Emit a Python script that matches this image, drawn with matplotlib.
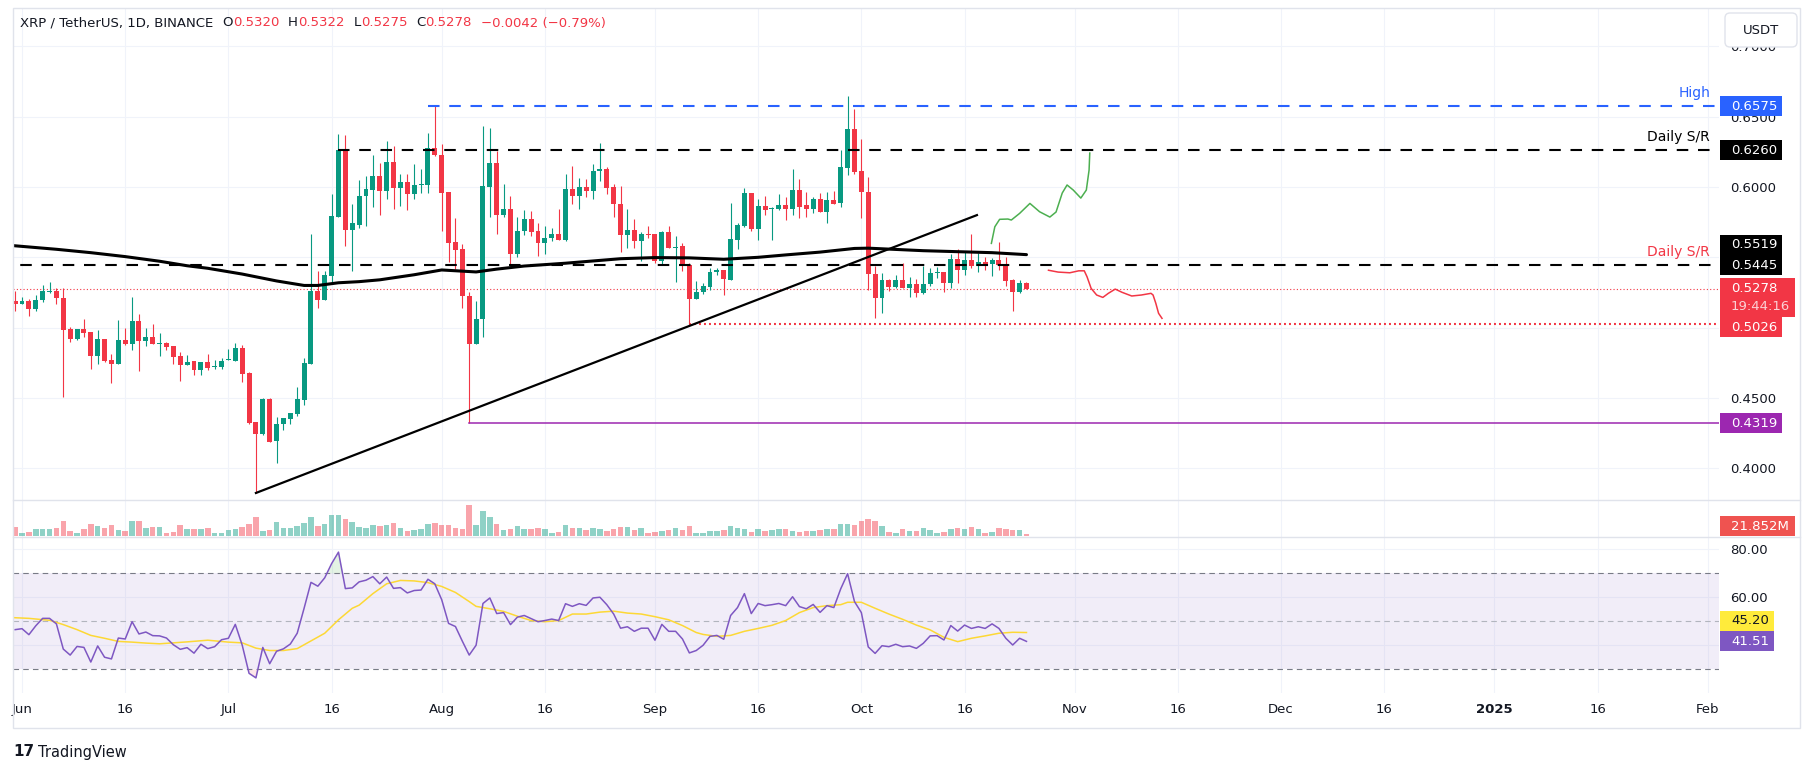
import matplotlib
matplotlib.use('Agg')
import matplotlib.pyplot as plt
import matplotlib.dates as mdates
from matplotlib.patches import Rectangle, FancyBboxPatch
import numpy as np
import pandas as pd

# ---------------------------------------------------------------- data
first_day = '2024-05-31'
opens = [0.5188, 0.5169, 0.5188, 0.5133, 0.5200, 0.5252, 0.5262, 0.5212, 0.4988, 0.4919,
         0.4988, 0.4967, 0.4798, 0.4917, 0.4767, 0.4740, 0.4910, 0.4883, 0.5045, 0.4905,
         0.4931, 0.4883, 0.4888, 0.4867, 0.4795, 0.4736, 0.4761, 0.4696, 0.4755, 0.4717,
         0.4723, 0.4769, 0.4766, 0.4856, 0.4679, 0.4331, 0.4246, 0.4494, 0.4197, 0.4312,
         0.4352, 0.4388, 0.4489, 0.4742, 0.5259, 0.5199, 0.5368, 0.5790, 0.6263, 0.5694,
         0.5728, 0.5935, 0.5980, 0.6076, 0.5972, 0.6177, 0.5994, 0.6034, 0.5952, 0.6011,
         0.6014, 0.6275, 0.6230, 0.5963, 0.5607, 0.5559, 0.5228, 0.4885, 0.5059, 0.6000,
         0.6169, 0.5803, 0.5846, 0.5522, 0.5685, 0.5773, 0.5689, 0.5605, 0.5640, 0.5667,
         0.5626, 0.5986, 0.5934, 0.6002, 0.5972, 0.6113, 0.6130, 0.6002, 0.5877, 0.5662,
         0.5694, 0.5618, 0.5667, 0.5667, 0.5471, 0.5681, 0.5569, 0.5577, 0.5444, 0.5207,
         0.5250, 0.5292, 0.5393, 0.5407, 0.5340, 0.5624, 0.5722, 0.5955, 0.5699, 0.5862,
         0.5843, 0.5843, 0.5871, 0.5843, 0.5980, 0.5871, 0.5843, 0.5913, 0.5823, 0.5907,
         0.5885, 0.6135, 0.6410, 0.6112, 0.5966, 0.5379, 0.5213, 0.5338, 0.5291, 0.5338,
         0.5284, 0.5310, 0.5244, 0.5307, 0.5390, 0.5395, 0.5319, 0.5488, 0.5409, 0.5480,
         0.5438, 0.5469, 0.5452, 0.5480, 0.5445, 0.5338, 0.5255, 0.5320]
highs = [0.5260, 0.5217, 0.5207, 0.5229, 0.5302, 0.5324, 0.5279, 0.5279, 0.5007, 0.4993,
         0.5060, 0.4967, 0.4981, 0.4917, 0.4810, 0.5052, 0.4995, 0.5217, 0.5095, 0.4995,
         0.5026, 0.4960, 0.4895, 0.4867, 0.4824, 0.4807, 0.4761, 0.4755, 0.4815, 0.4772,
         0.4783, 0.4848, 0.4891, 0.4878, 0.4687, 0.4331, 0.4500, 0.4500, 0.4366, 0.4358,
         0.4393, 0.4578, 0.4783, 0.5667, 0.5400, 0.5400, 0.5950, 0.6378, 0.6372, 0.5877,
         0.6048, 0.6076, 0.6225, 0.6169, 0.6326, 0.6289, 0.6090, 0.6090, 0.6163, 0.6126,
         0.6385, 0.6575, 0.6303, 0.5963, 0.5778, 0.5593, 0.5256, 0.5191, 0.6433, 0.6421,
         0.6253, 0.6020, 0.5935, 0.5789, 0.5839, 0.5830, 0.5743, 0.5722, 0.5708, 0.5844,
         0.6089, 0.6152, 0.6062, 0.6054, 0.6165, 0.6315, 0.6143, 0.6021, 0.6007, 0.5844,
         0.5773, 0.5681, 0.5722, 0.5667, 0.5689, 0.5722, 0.5654, 0.5599, 0.5463, 0.5331,
         0.5320, 0.5427, 0.5427, 0.5413, 0.5885, 0.5742, 0.5994, 0.5955, 0.5916, 0.5935,
         0.5857, 0.5947, 0.5927, 0.6126, 0.6059, 0.5966, 0.5927, 0.5955, 0.5963, 0.5972,
         0.6261, 0.6646, 0.6553, 0.6340, 0.6070, 0.5438, 0.5386, 0.5348, 0.5374, 0.5457,
         0.5357, 0.5345, 0.5438, 0.5421, 0.5428, 0.5395, 0.5523, 0.5556, 0.5540, 0.5665,
         0.5528, 0.5504, 0.5492, 0.5608, 0.5504, 0.5348, 0.5338, 0.5322]
lows = [0.5117, 0.5165, 0.5083, 0.5119, 0.5183, 0.5243, 0.5169, 0.4505, 0.4898, 0.4912,
        0.4933, 0.4705, 0.4740, 0.4755, 0.4605, 0.4740, 0.4874, 0.4840, 0.4690, 0.4869,
        0.4883, 0.4798, 0.4843, 0.4740, 0.4619, 0.4736, 0.4660, 0.4660, 0.4696, 0.4709,
        0.4709, 0.4769, 0.4766, 0.4611, 0.4312, 0.3825, 0.4238, 0.4189, 0.4040, 0.4274,
        0.4312, 0.4369, 0.4453, 0.4742, 0.5139, 0.5199, 0.5319, 0.5790, 0.5577, 0.5406,
        0.5711, 0.5722, 0.5860, 0.5803, 0.5916, 0.5846, 0.5865, 0.5837, 0.5916, 0.5958,
        0.5958, 0.6219, 0.5685, 0.5466, 0.5416, 0.5138, 0.4319, 0.4885, 0.4933, 0.5789,
        0.5663, 0.5784, 0.5452, 0.5503, 0.5660, 0.5648, 0.5507, 0.5526, 0.5618, 0.5626,
        0.5613, 0.5879, 0.5844, 0.5926, 0.5912, 0.6043, 0.5950, 0.5787, 0.5539, 0.5564,
        0.5569, 0.5471, 0.5634, 0.5458, 0.5449, 0.5569, 0.5327, 0.5406, 0.5026, 0.5205,
        0.5242, 0.5270, 0.5376, 0.5233, 0.5340, 0.5562, 0.5713, 0.5685, 0.5621, 0.5798,
        0.5621, 0.5834, 0.5764, 0.5801, 0.5778, 0.5787, 0.5815, 0.5823, 0.5742, 0.5879,
        0.5860, 0.6084, 0.6093, 0.5781, 0.5267, 0.5071, 0.5106, 0.5262, 0.5279, 0.5284,
        0.5215, 0.5215, 0.5236, 0.5296, 0.5355, 0.5253, 0.5279, 0.5319, 0.5374, 0.5426,
        0.5398, 0.5409, 0.5367, 0.5409, 0.5296, 0.5118, 0.5248, 0.5275]
closes = [0.5169, 0.5188, 0.5133, 0.5200, 0.5260, 0.5262, 0.5212, 0.4986, 0.4919, 0.4988,
          0.4962, 0.4798, 0.4917, 0.4762, 0.4740, 0.4910, 0.4881, 0.5045, 0.4905, 0.4931,
          0.4883, 0.4886, 0.4862, 0.4790, 0.4736, 0.4755, 0.4696, 0.4755, 0.4714, 0.4728,
          0.4761, 0.4780, 0.4856, 0.4671, 0.4320, 0.4246, 0.4494, 0.4189, 0.4312, 0.4358,
          0.4393, 0.4494, 0.4750, 0.5259, 0.5199, 0.5373, 0.5795, 0.6263, 0.5694, 0.5741,
          0.5935, 0.5983, 0.6076, 0.5972, 0.6177, 0.5994, 0.6034, 0.5952, 0.6011, 0.6017,
          0.6275, 0.6225, 0.5958, 0.5604, 0.5551, 0.5228, 0.4885, 0.5059, 0.6006, 0.6169,
          0.5803, 0.5846, 0.5522, 0.5685, 0.5773, 0.5683, 0.5605, 0.5637, 0.5667, 0.5626,
          0.5986, 0.5934, 0.6002, 0.5972, 0.6113, 0.6130, 0.5994, 0.5877, 0.5662, 0.5694,
          0.5618, 0.5667, 0.5662, 0.5471, 0.5681, 0.5569, 0.5575, 0.5444, 0.5207, 0.5250,
          0.5295, 0.5393, 0.5407, 0.5348, 0.5629, 0.5728, 0.5955, 0.5699, 0.5862, 0.5837,
          0.5851, 0.5871, 0.5843, 0.5980, 0.5857, 0.5843, 0.5913, 0.5823, 0.5907, 0.5879,
          0.6140, 0.6410, 0.6107, 0.5966, 0.5379, 0.5213, 0.5338, 0.5291, 0.5338, 0.5284,
          0.5310, 0.5244, 0.5307, 0.5386, 0.5395, 0.5319, 0.5488, 0.5409, 0.5480, 0.5438,
          0.5469, 0.5452, 0.5480, 0.5445, 0.5334, 0.5255, 0.5320, 0.5278]
# daily volume, millions of XRP
volumes = [102, 33, 44, 77, 77, 77, 91, 165, 55, 33, 77, 132, 113, 91, 121, 66, 55, 165, 165, 88,
           102, 102, 36, 44, 121, 77, 76, 76, 85, 30, 30, 63, 76, 101, 131, 207, 55, 63, 152, 85,
           85, 113, 143, 207, 113, 131, 228, 228, 186, 152, 100, 87, 121, 109, 121, 143, 87, 52, 69, 74,
           131, 143, 121, 121, 87, 74, 339, 121, 274, 209, 131, 65, 74, 110, 75, 76, 85, 76, 30, 42,
           118, 85, 85, 63, 85, 76, 55, 76, 97, 97, 63, 85, 30, 42, 55, 63, 85, 63, 110, 31,
           31, 52, 52, 65, 109, 87, 74, 44, 74, 52, 65, 74, 74, 52, 44, 52, 52, 65, 74, 74,
           131, 131, 121, 167, 187, 165, 110, 44, 33, 77, 55, 55, 88, 66, 33, 44, 77, 88, 77, 99,
           77, 33, 44, 88, 77, 66, 66, 21.852]
rsi = [46.4, 46.8, 44.3, 48.0, 51.1, 51.1, 48.8, 38.3, 35.8, 39.4, 39.0, 32.9, 39.6, 34.9, 34.2,
       42.9, 42.5, 49.7, 44.6, 45.4, 43.9, 43.8, 42.9, 40.1, 38.2, 38.9, 36.6, 40.3, 38.5, 39.3,
       42.2, 42.8, 48.6, 40.0, 28.2, 26.3, 39.0, 32.2, 37.4, 38.4, 40.4, 44.9, 55.3, 66.1, 64.5,
       68.0, 73.9, 78.7, 63.5, 63.8, 66.3, 67.0, 68.5, 65.5, 68.3, 63.6, 63.9, 61.7, 62.7, 62.9,
       67.4, 65.5, 58.9, 49.0, 47.7, 41.6, 35.8, 39.9, 57.3, 59.6, 53.1, 53.5, 48.5, 51.6, 52.3,
       51.0, 49.7, 50.2, 50.8, 50.2, 57.2, 56.1, 57.2, 56.5, 59.6, 59.9, 56.8, 52.9, 47.0, 47.6,
       45.7, 47.0, 47.0, 42.0, 48.6, 45.7, 45.7, 42.5, 36.7, 37.7, 39.9, 43.6, 44.0, 42.4, 52.3,
       55.6, 61.4, 53.1, 57.3, 56.4, 56.8, 57.3, 56.4, 60.1, 56.0, 55.1, 56.9, 53.6, 56.4, 55.6,
       63.4, 69.7, 58.1, 53.5, 39.2, 36.5, 39.7, 39.3, 40.3, 39.3, 39.6, 38.6, 40.7, 43.8, 43.9,
       42.1, 48.1, 45.8, 48.3, 46.9, 47.6, 46.9, 48.8, 46.9, 42.8, 40.0, 42.8, 41.51]
# RSI moving average, read at these days after 1 Jun 2024
rsi_ma_days = [-1.3, 1, 4, 6, 8, 10, 12, 14, 16, 18, 20, 22, 24, 27, 30, 32, 34, 36, 38, 40,
               42, 44, 46, 48, 49, 51, 53, 55, 57, 59, 61, 63, 65, 66, 68, 70, 72, 74, 76, 78,
               80, 82, 84, 86, 88, 90, 92, 94, 96, 98, 99, 101, 103, 105, 107, 109, 111, 113, 115, 117,
               119, 120, 122, 124, 126, 128, 130, 132, 134, 136, 138, 140, 142, 144, 146]
rsi_ma = [51.4, 51.1, 50.3, 48.5, 46.4, 44.0, 42.8, 41.5, 41.2, 40.8, 40.5, 40.9, 41.3, 42.0, 41.2,
          40.9, 38.7, 37.7, 37.7, 38.5, 41.7, 44.9, 50.5, 55.3, 56.6, 61.4, 65.5, 66.9, 66.7, 66.0,
          64.4, 61.9, 58.1, 56.1, 55.1, 54.0, 52.0, 50.2, 49.7, 50.2, 52.9, 52.9, 53.7, 54.1, 53.3,
          52.9, 51.8, 50.5, 48.1, 45.2, 44.4, 43.6, 44.0, 45.7, 46.9, 48.2, 50.2, 53.5, 55.6, 56.4,
          56.8, 57.8, 57.8, 55.3, 52.9, 50.7, 48.3, 46.3, 43.2, 41.4, 42.8, 43.8, 44.9, 45.3, 45.2]
# 200-day SMA
sma_days = [-1.3, 5, 10, 15, 20, 24, 27, 32, 37, 41, 43, 46, 49, 52, 57, 61, 66, 69, 73, 79,
            87, 92, 97, 102, 107, 111, 116, 121, 123, 127, 131, 136, 141, 146]
sma = [0.5583, 0.5557, 0.5533, 0.5505, 0.5472, 0.5440, 0.5422, 0.5381, 0.5332, 0.5300,
       0.5300, 0.5319, 0.5327, 0.5340, 0.5376, 0.5410, 0.5396, 0.5416, 0.5438, 0.5458,
       0.5490, 0.5498, 0.5496, 0.5486, 0.5500, 0.5517, 0.5537, 0.5563, 0.5565, 0.5556,
       0.5547, 0.5540, 0.5533, 0.5519]
# drawings
trend_days = [34, 138.8]
trend_prices = [0.3825, 0.5800]
bull_days = [140.9, 141.4, 142.1, 143.3, 143.8, 145.0, 146.5, 147.9, 149.4, 150.3,
             151.2, 151.9, 152.8, 153.9, 154.7, 155.1, 155.2]
bull_prices = [0.5599, 0.5717, 0.5770, 0.5772, 0.5765, 0.5812, 0.5883, 0.5824, 0.5786, 0.5822,
               0.5957, 0.6014, 0.5978, 0.5921, 0.5978, 0.6120, 0.6241]
bear_days = [149.2, 150.6, 152.3, 153.6, 154.4, 154.8, 155.4, 156.2, 157.1, 157.9,
             158.9, 159.9, 161.3, 162.7, 164.1, 164.4, 164.8, 165.2, 165.7]
bear_prices = [0.5408, 0.5395, 0.5390, 0.5404, 0.5404, 0.5362, 0.5279, 0.5232, 0.5215, 0.5244,
               0.5274, 0.5251, 0.5225, 0.5232, 0.5244, 0.5232, 0.5173, 0.5102, 0.5066]
high_level, high_from = 0.6575, 59
sr_upper, sr_upper_from = 0.6260, 46
sr_lower = 0.5445
low_sep, low_sep_from = 0.5026, 97
low_aug, low_aug_from = 0.4319, 65
last_price = 0.5278
sma_last = 0.5519
rsi_ma_last = 45.20
countdown = '19:44:16'

price_ticks = [0.40, 0.45, 0.50, 0.55, 0.60, 0.65, 0.70]
price_hidden = [0.50, 0.55]     # covered by tags in the reference
rsi_ticks = [40, 60, 80]
rsi_hidden = [40]
tick_dates = ['2024-06-01', '2024-06-16', '2024-07-01', '2024-07-16', '2024-08-01',
              '2024-08-16', '2024-09-01', '2024-09-16', '2024-10-01', '2024-10-16',
              '2024-11-01', '2024-11-16', '2024-12-01', '2024-12-16', '2025-01-01',
              '2025-01-16', '2025-02-01']
tick_labels = ['Jun', '16', 'Jul', '16', 'Aug', '16', 'Sep', '16', 'Oct', '16',
               'Nov', '16', 'Dec', '16', '2025', '16', 'Feb']

# ---------------------------------------------------------------- style
GREEN = '#089981'
RED = '#f23645'
BLUE = '#2962ff'
PURPLE = '#9c27b0'
RSI_COL = '#7e57c2'
MA_COL = '#fdd835'
GRID = '#f0f3fa'
BORDER = '#e0e3eb'
TXT = '#131722'
FS = 9.5

plt.rcParams['font.family'] = ['DejaVu Sans']
plt.rcParams['lines.scale_dashes'] = False

W, H = 1814, 772
fig = plt.figure(figsize=(W / 100, H / 100), dpi=100, facecolor='white')


def box(x0, y0, x1, y1):
    # figure fraction from image pixels (top-left origin)
    return [x0 / W, 1 - y1 / H, (x1 - x0) / W, (y1 - y0) / H]


ax = fig.add_axes(box(13, 8, 1719, 500))
axv = fig.add_axes(box(13, 500, 1719, 537), sharex=ax)
axr = fig.add_axes(box(13, 537, 1719, 693), sharex=ax)

dates = pd.date_range(first_day, periods=len(closes), freq='D')
x = mdates.date2num(dates)
base = mdates.date2num(pd.Timestamp('2024-06-01'))
o, h, l, c = (np.array(a) for a in (opens, highs, lows, closes))
up = c >= o
cols = np.where(up, GREEN, RED)

# candles
ax.vlines(x, l, h, colors=cols, lw=0.8, zorder=2)
ax.bar(x, np.maximum(np.abs(c - o), 0.0007), bottom=np.minimum(o, c), width=0.72,
       color=cols, linewidth=0, zorder=2.5)

# levels
ax.axhline(last_price, color=RED, lw=0.8, ls=(0, (0.8, 1.6)), zorder=1.5)
ax.plot([base + high_from, base + 300], [high_level] * 2, color=BLUE, lw=1.5,
        ls=(0, (8.3, 7.0)), zorder=3)
ax.plot([base + sr_upper_from, base + 300], [sr_upper] * 2, color='black', lw=1.5,
        ls=(0, (8.3, 7.0)), zorder=3)
ax.plot([base - 5, base + 300], [sr_lower] * 2, color='black', lw=1.5,
        ls=(0, (8.3, 7.0)), zorder=3)
ax.plot([base + low_sep_from, base + 300], [low_sep] * 2, color=RED, lw=1.5,
        ls=(0, (1.4, 2.2)), zorder=3)
ax.plot([base + low_aug_from, base + 300], [low_aug] * 2, color=PURPLE, lw=1.1, zorder=3)

ax.plot(base + np.array(sma_days), sma, color='black', lw=2.2, zorder=3,
        solid_capstyle='round')
ax.plot(base + np.array(trend_days), trend_prices, color='black', lw=1.6, zorder=3)
ax.plot(base + np.array(bull_days), bull_prices, color='#4caf50', lw=1.1, zorder=3)
ax.plot(base + np.array(bear_days), bear_prices, color=RED, lw=1.1, zorder=3)

ax.set_xlim(base - 1.31, base + 246.66)
ax.set_ylim(0.3775, 0.7272)

# volume
vmax = max(volumes)
axv.bar(x, volumes, width=0.8, color=cols, alpha=0.45, linewidth=0)
axv.set_ylim(-vmax / 31, vmax * 36 / 31)

# rsi
rsi_a = np.array(rsi)
axr.axhspan(30, 70, color=RSI_COL, alpha=0.1, lw=0)
axr.axhline(70, color='#787b86', lw=0.8, ls=(0, (4, 3)))
axr.axhline(30, color='#787b86', lw=0.8, ls=(0, (4, 3)))
axr.axhline(50, color='#b2b5be', lw=0.8, ls=(0, (4, 3)))
axr.fill_between(x, rsi_a, 70, where=rsi_a > 70, interpolate=True, color='#4caf50',
                 alpha=0.15, lw=0)
axr.fill_between(x, rsi_a, 30, where=rsi_a < 30, interpolate=True, color=RED,
                 alpha=0.12, lw=0)
axr.plot(base + np.array(rsi_ma_days), rsi_ma, color=MA_COL, lw=1.1)
axr.plot(x, rsi_a, color=RSI_COL, lw=1.1)
axr.set_ylim(20, 85)

# axes cosmetics
tick_x = mdates.date2num(pd.to_datetime(tick_dates))
for a in (ax, axv, axr):
    for s in a.spines.values():
        s.set_visible(False)
    a.set_xticks(tick_x)
    a.grid(axis='x', color=GRID, lw=0.8)
    a.set_axisbelow(True)
    a.tick_params(length=0, labelsize=FS, colors=TXT)
    a.yaxis.tick_right()
ax.grid(axis='y', color=GRID, lw=0.8)
axr.grid(axis='y', color=GRID, lw=0.8)
ax.set_yticks(price_ticks)
ax.set_yticklabels(['' if v in price_hidden else f'{v:.4f}' for v in price_ticks])
axr.set_yticks(rsi_ticks)
axr.set_yticklabels(['' if v in rsi_hidden else f'{v:.2f}' for v in rsi_ticks])
axv.set_yticks([])
for a in (ax, axr):
    a.tick_params(axis='y', pad=8)
ax.tick_params(axis='x', labelbottom=False)
axv.tick_params(axis='x', labelbottom=False)
axr.set_xticklabels(tick_labels)
axr.tick_params(axis='x', pad=7.5)
for t in axr.get_xticklabels():
    if t.get_text() == '2025':
        t.set_fontweight('bold')

# ---------------------------------------------------------------- overlay
ov = fig.add_axes([0, 0, 1, 1], zorder=10)
ov.set_xlim(0, W)
ov.set_ylim(H, 0)
ov.axis('off')
ov.patch.set_alpha(0)


def yimg(a, v):
    return H - a.transData.transform((0, v))[1]


# frame and pane separators
ov.add_patch(Rectangle((12.5, 8), 1800 - 12.5, 720, fill=False, ec=BORDER, lw=1))
for a in (axv, axr):
    ysep = H - a.get_position().y1 * H
    ov.plot([12.5, 1800], [ysep, ysep], color=BORDER, lw=1)

# header legend
prev = ov.text(20, 23, 'XRP / TetherUS, 1D, BINANCE', fontsize=FS, color=TXT, va='center')
header = [('O', TXT, 6.5), ('0.5320', RED, 0), ('H', TXT, 6.5), ('0.5322', RED, 0),
          ('L', TXT, 6.5), ('0.5275', RED, 0), ('C', TXT, 6.5), ('0.5278', RED, 0),
          ('\u22120.0042 (\u22120.79%)', RED, 6.5)]
for s, col, gap in header:
    prev = ov.annotate(s, xy=(1, 0.5), xycoords=prev, xytext=(gap, 0),
                       textcoords='offset points', fontsize=FS, color=col,
                       va='center', ha='left')

# level captions
for val, txt, col in [(high_level, 'High', BLUE), (sr_upper, 'Daily S/R', 'black'),
                      (sr_lower, 'Daily S/R', RED)]:
    ov.text(1710, yimg(ax, val) - 13, txt, fontsize=10, color=col, ha='right', va='center')


# axis tags
def tag(yc, text, fc, tc='white', w=62, hgt=20):
    ov.add_patch(Rectangle((1720, yc - hgt / 2), w, hgt, fc=fc, ec='none'))
    ov.text(1731, yc, text, fontsize=FS, color=tc, va='center', ha='left')


tag(yimg(ax, high_level), f'{high_level:.4f}', BLUE)
tag(yimg(ax, sr_upper), f'{sr_upper:.4f}', 'black')
tag(yimg(ax, sma_last) - 10, f'{sma_last:.4f}', 'black')
tag(yimg(ax, sr_lower), f'{sr_lower:.4f}', 'black')
yl = yimg(ax, last_price)
ov.add_patch(Rectangle((1720, yl - 10.5), 75, 38.5, fc=RED, ec='none'))
ov.text(1731, yl, f'{last_price:.4f}', fontsize=FS, color='white', va='center')
ov.text(1731, yl + 18, countdown, fontsize=FS, color='#fbd0d4', va='center')
tag(yimg(ax, low_sep) + 3.5, f'{low_sep:.4f}', RED)
tag(yimg(ax, low_aug), f'{low_aug:.4f}', PURPLE)
tag(yimg(axv, volumes[-1]) - 8, f'{volumes[-1]:.3f}M', '#ef5350', w=75)
tag(yimg(axr, rsi_ma_last) - 12, f'{rsi_ma_last:.2f}', '#ffeb3b', tc=TXT, w=54)
tag(yimg(axr, rsi[-1]), f'{rsi[-1]:.2f}', RSI_COL, w=54)

# currency button
ov.add_patch(FancyBboxPatch((1725, 13), 72, 34, boxstyle='round,pad=0,rounding_size=5',
                            fc='white', ec=BORDER, lw=1))
ov.text(1761, 30, 'USDT', fontsize=FS, color=TXT, ha='center', va='center')

# watermark
ov.text(13, 752, '17', fontsize=11, fontweight='heavy', color=TXT, va='center')
ov.text(38, 752, 'TradingView', fontsize=10.5, color=TXT, va='center')

fig.savefig('out.png', dpi=100, facecolor='white')
